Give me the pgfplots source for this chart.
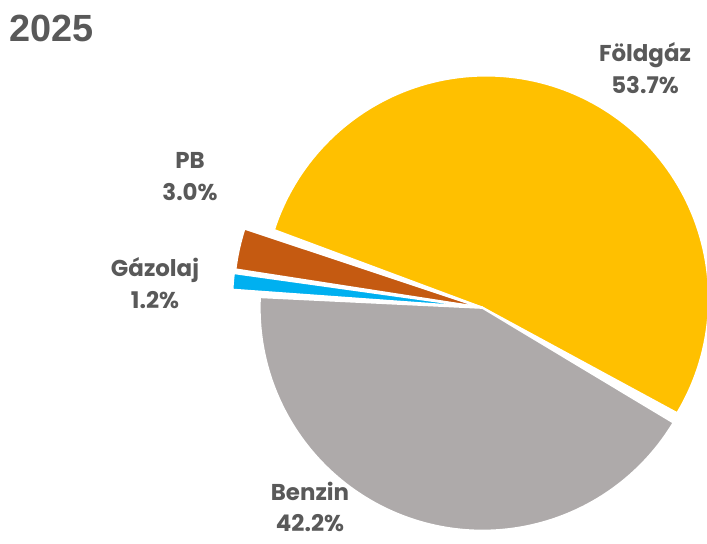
\documentclass[border=0pt]{standalone}
\usepackage{pgfplots}
\pgfplotsset{compat=1.18}
\usepackage{fontspec}
\newfontfamily\lab{Poppins}
\newfontfamily\ttl{Liberation Sans}
\definecolor{cF}{HTML}{FFC000}
\definecolor{cP}{HTML}{C55A11}
\definecolor{cG}{HTML}{00B0F0}
\definecolor{cB}{HTML}{AEAAAA}
\definecolor{txt}{HTML}{595959}
% data (percent)
\def\vF{53.7}\def\vP{3.0}\def\vG{1.2}\def\vB{42.2}
\begin{document}
\begin{tikzpicture}
\pgfmathsetmacro{\tot}{\vF+\vP+\vG+\vB}
\pgfmathsetmacro{\aA}{-31.0}
\pgfmathsetmacro{\aB}{\aA+\vF/\tot*360}
\pgfmathsetmacro{\aC}{\aB+\vP/\tot*360}
\pgfmathsetmacro{\aD}{\aC+\vG/\tot*360}
\pgfmathsetmacro{\aE}{\aD+\vB/\tot*360}
\def\cx{484}\def\cy{241}\def\r{223}
\begin{axis}[name=ax,
  x=1bp, y=1bp, xmin=0, xmax=707, ymin=0, ymax=544,
  scale only axis, hide axis, clip=false,
  every axis plot/.append style={draw=white, line width=2.2bp, line join=round, samples=120, variable=\t},
]
% Foldgaz
\pgfmathsetmacro{\m}{(\aA+\aB)/2}
\pgfmathsetmacro{\ox}{\cx+5*cos(\m)}\pgfmathsetmacro{\oy}{\cy+5*sin(\m)}
\addplot[fill=cF, domain=\aA:\aB] ({\ox+\r*cos(t)},{\oy+\r*sin(t)}) -- (axis cs:\ox,\oy) -- cycle;
% PB
\pgfmathsetmacro{\m}{(\aB+\aC)/2}
\pgfmathsetmacro{\ox}{\cx+28*cos(\m)}\pgfmathsetmacro{\oy}{\cy+28*sin(\m)}
\addplot[fill=cP, domain=\aB:\aC] ({\ox+\r*cos(t)},{\oy+\r*sin(t)}) -- (axis cs:\ox,\oy) -- cycle;
% Gazolaj
\pgfmathsetmacro{\m}{(\aC+\aD)/2}
\pgfmathsetmacro{\ox}{\cx+29*cos(\m)}\pgfmathsetmacro{\oy}{\cy+29*sin(\m)}
\addplot[fill=cG, domain=\aC:\aD] ({\ox+\r*cos(t)},{\oy+\r*sin(t)}) -- (axis cs:\ox,\oy) -- cycle;
% Benzin
\pgfmathsetmacro{\m}{(\aD+\aE)/2}
\pgfmathsetmacro{\ox}{\cx+5*cos(\m)}\pgfmathsetmacro{\oy}{\cy+5*sin(\m)}
\addplot[fill=cB, domain=\aD:\aE] ({\ox+\r*cos(t)},{\oy+\r*sin(t)}) -- (axis cs:\ox,\oy) -- cycle;

\tikzset{lbl/.style={text=txt, align=center, font=\lab\bfseries\fontsize{23}{32}\selectfont, inner sep=0pt}}
\node[lbl] at (axis cs:645,476) {Földgáz\\53.7\%};
\node[lbl] at (axis cs:190,367) {PB\\3.0\%};
\node[lbl] at (axis cs:155,261) {Gázolaj\\1.2\%};
\node[lbl] at (axis cs:310,37) {Benzin\\42.2\%};
\node[anchor=base west, inner sep=0pt, text=txt, font=\ttl\bfseries\fontsize{38}{40}\selectfont] at (axis cs:9,502) {2025};
\end{axis}
\pgfresetboundingbox
\path (ax.south west) rectangle (ax.north east);
\end{tikzpicture}
\end{document}
